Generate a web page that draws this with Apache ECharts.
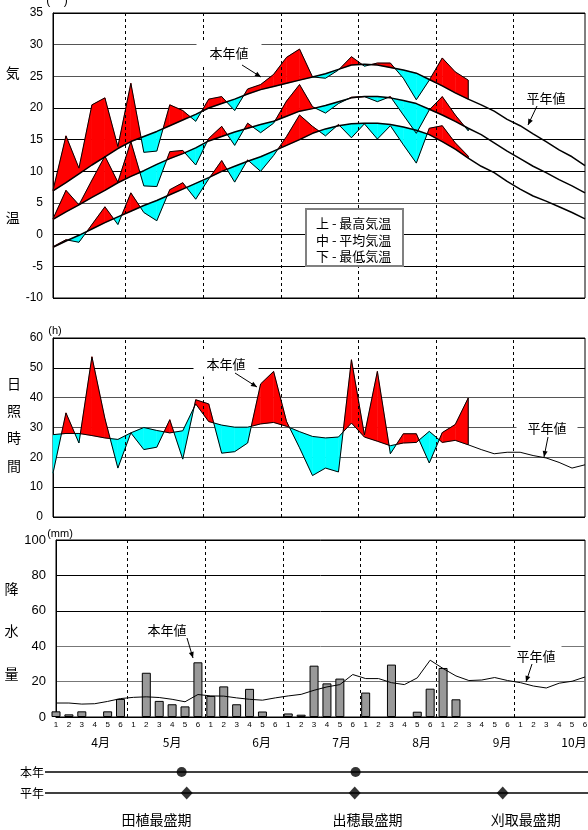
<!DOCTYPE html>
<html>
<head>
<meta charset="utf-8">
<script src="https://cdn.jsdelivr.net/npm/echarts@6/dist/echarts.min.js"></script>
<style>
html,body{margin:0;padding:0;background:#fff;}
#main{width:588px;height:830px;}
</style>
</head>
<body>
<div id="main"></div>
<script>
// x = 半旬 index, 0 = 4月1半旬 ... 41 = 10月6半旬
var periodLabels = ['1', '2', '3', '4', '5', '6'];
var monthNames = ['4月', '5月', '6月', '7月', '8月', '9月', '10月'];
var monthLabelPos = [3.46, 9.0, 15.94, 22.14, 28.34, 34.58, 40.15];
var monthEdges = [5.55, 11.6, 17.6, 23.55, 29.5, 35.5];

// 気温 (℃)
var maxAct = [7.0, 15.6, 10.5, 20.5, 21.6, 13.9, 23.9, 13.0, 13.2, 20.5, 19.6, 17.9, 21.4, 21.8, 19.6, 23.0,
	23.7, 25.3, 28.0, 29.3, 24.9, 24.7, 26.0, 28.1, 26.6, 27.1, 27.1, 24.7, 21.3, 24.4, 27.9, 25.7, 24.4];
var maxNorm = [6.9, 8.2, 9.6, 11.0, 12.3, 13.6, 14.7, 15.5, 16.3, 17.2, 18.1, 19.0, 20.0, 20.7, 21.4, 22.2,
	22.9, 23.4, 23.9, 24.4, 24.9, 25.4, 26.1, 26.8, 26.9, 26.8, 26.4, 26.0, 25.5, 24.5, 23.5, 22.4, 21.4,
	20.5, 19.5, 18.2, 17.2, 15.9, 14.7, 13.4, 12.3, 10.9];
var meanAct = [2.5, 7.0, 4.7, 8.6, 12.4, 8.3, 14.7, 7.7, 7.6, 13.1, 13.3, 11.0, 15.2, 17.1, 14.1, 17.6,
	16.1, 17.6, 21.1, 23.7, 20.2, 19.2, 20.7, 21.7, 21.8, 21.0, 21.8, 18.9, 16.0, 19.7, 21.8, 18.9, 16.4];
var meanNorm = [2.4, 3.6, 4.7, 5.9, 7.0, 8.2, 9.2, 10.1, 11.1, 12.0, 12.8, 13.7, 14.8, 15.5, 16.2, 16.8,
	17.4, 17.9, 18.7, 19.5, 19.9, 20.4, 21.0, 21.6, 21.8, 21.8, 21.6, 21.2, 20.7, 19.8, 18.9, 17.9, 16.8,
	15.8, 14.5, 13.2, 12.0, 10.8, 9.8, 8.7, 7.7, 6.6];
var minAct = [-1.9, -0.8, -1.2, 1.6, 4.4, 1.6, 6.6, 3.5, 2.2, 7.1, 8.2, 5.6, 8.8, 11.7, 8.3, 11.8,
	10.0, 12.5, 15.5, 18.9, 17.1, 15.6, 17.4, 15.3, 17.5, 15.1, 17.2, 14.2, 11.3, 16.8, 17.2, 14.5, 12.4];
var minNorm = [-2.0, -1.0, -0.1, 0.9, 1.9, 2.8, 3.7, 4.6, 5.4, 6.3, 7.2, 8.1, 9.0, 10.0, 10.8, 11.6,
	12.3, 13.2, 14.1, 15.0, 16.0, 16.7, 17.2, 17.5, 17.6, 17.6, 17.4, 17.0, 16.5, 15.8, 14.7, 13.5, 12.1,
	10.8, 9.8, 8.4, 7.2, 6.1, 5.3, 4.4, 3.5, 2.5];

// 日照時間 (h)
var sunAct = [14.7, 34.9, 24.8, 53.7, 33.0, 16.4, 28.2, 22.6, 23.4, 32.6, 19.4, 39.3, 37.9, 21.4, 21.9, 24.8,
	44.6, 48.8, 32.0, 23.2, 13.9, 16.4, 15.1, 52.7, 27.5, 48.8, 21.2, 27.9, 27.9, 18.1, 28.3, 31.0, 39.9];
var sunNorm = [27.6, 28.0, 28.0, 27.3, 26.5, 26.0, 28.2, 30.0, 29.0, 28.2, 28.9, 37.9, 32.0, 30.8, 30.1, 30.1,
	31.2, 31.7, 30.4, 28.6, 27.0, 26.5, 26.8, 31.5, 26.8, 25.4, 23.9, 24.8, 25.0, 28.7, 25.0, 25.7, 24.2,
	22.6, 21.2, 21.7, 21.7, 20.6, 19.8, 18.3, 16.4, 17.5];

// 降水量 (mm)
var rainAct = [3.2, 1.5, 3.2, null, 3.2, 10.2, null, 25.0, 9.1, 7.2, 6.0, 30.9, 11.9, 17.3, 7.2, 15.9,
	3.1, null, 2.0, 1.3, 29.0, 19.0, 21.7, null, 13.8, null, 29.6, null, 3.0, 16.0, 27.7, 10.0];
var rainNorm = [7.9, 7.9, 7.3, 7.5, 8.8, 10.4, 11.1, 11.4, 11.0, 10.0, 8.6, 12.7, 11.9, 11.8, 10.8, 10.0,
	9.5, 10.8, 11.9, 12.8, 15.1, 17.0, 18.3, 24.0, 21.7, 21.7, 19.4, 18.3, 22.1, 32.1, 27.4, 23.2, 20.6,
	20.9, 22.3, 20.6, 19.4, 17.5, 16.4, 19.1, 20.2, 22.6];

// 生育ステージ
var stageNames = ['田植最盛期', '出穂最盛期', '刈取最盛期'];
var stageLabelPos = [7.8, 24.15, 36.4];
var stageThisYear = [9.74, 23.22];
var stageNormal = [10.13, 23.15, 34.62];

var RED = '#ff0000', CYAN = '#00ffff';
var JP = '"Noto Sans CJK JP", sans-serif';

function pairs(arr) {
	var out = [];
	for (var i = 0; i < arr.length; i++) {
		if (arr[i] != null) out.push([i, arr[i]]);
	}
	return out;
}

// red where this year is above normal, cyan where below
function band(act, norm, ax) {
	var segs = [];
	for (var i = 0; i < act.length - 1; i++) {
		segs.push([i, act[i], norm[i], act[i + 1], norm[i + 1]]);
	}
	return {
		type: 'custom', xAxisIndex: ax, yAxisIndex: ax, z: 2, silent: true,
		data: segs,
		encode: {x: 0, y: [1, 2]},
		renderItem: function(params, api){
			var i = api.value(0);
			var a0v = api.value(1), n0v = api.value(2), a1v = api.value(3), n1v = api.value(4);
			var a0 = api.coord([i, a0v]), n0 = api.coord([i, n0v]);
			var a1 = api.coord([i + 1, a1v]), n1 = api.coord([i + 1, n1v]);
			var d0 = a0v - n0v, d1 = a1v - n1v;
			var kids = [];
			function poly(pts, up){
				var c = up ? RED : CYAN;
				kids.push({type: 'polygon', shape: {points: pts}, style: {fill: c, stroke: c, lineWidth: 0.5}});
			}
			if (d0 * d1 >= 0) {
				poly([a0, a1, n1, n0], d0 + d1 >= 0);
			} else {
				var t = d0 / (d0 - d1);
				var p = [a0[0] + t * (a1[0] - a0[0]), a0[1] + t * (a1[1] - a0[1])];
				poly([a0, p, n0], d0 > 0);
				poly([p, a1, n1], d1 > 0);
			}
			if (params.dataIndex === segs.length - 1) {
				kids.push({type: 'line', shape: {x1: a1[0], y1: a1[1], x2: n1[0], y2: n1[1]},
					style: {stroke: '#000', lineWidth: 1}});
			}
			return {type: 'group', children: kids};
		}
	};
}

function line(arr, ax, w) {
	return {
		type: 'line', xAxisIndex: ax, yAxisIndex: ax, data: pairs(arr), symbol: 'none', silent: true, z: 3,
		lineStyle: {color: '#000', width: w}
	};
}

function monthLines(ax) {
	return {
		type: 'line', xAxisIndex: ax, yAxisIndex: ax, data: [], silent: true, z: 1,
		markLine: {
			silent: true, symbol: 'none', label: {show: false}, animation: false,
			lineStyle: {color: '#000', type: [3, 3], width: 1},
			data: monthEdges.map(function(v){ return {xAxis: v}; })
		}
	};
}

// s = spacer line, shifts the stacked title up or down
function valueY(idx, min, max, step, colors, name, gap, lh, sp, fs) {
	return {
		gridIndex: idx, type: 'value', min: min, max: max, interval: step,
		axisLine: {show: true, lineStyle: {color: '#000', width: 1}},
		axisTick: {show: false},
		axisLabel: {color: '#000', fontSize: fs, margin: 10, fontFamily: 'Liberation Sans'},
		splitLine: {show: true, lineStyle: {color: colors, width: 1}},
		name: name, nameLocation: 'middle', nameRotate: 0, nameGap: gap,
		nameTextStyle: {fontSize: 14, color: '#000', lineHeight: lh, fontFamily: JP,
			rich: {s: {fontSize: 1, lineHeight: sp}}}
	};
}

function arrow(x1, y1, x2, y2) {
	var dx = x2 - x1, dy = y2 - y1, l = Math.sqrt(dx * dx + dy * dy);
	var ux = dx / l, uy = dy / l;
	var bx = x2 - ux * 6, by = y2 - uy * 6;
	return [
		{type: 'line', shape: {x1: x1, y1: y1, x2: x2, y2: y2}, style: {stroke: '#000', lineWidth: 1}, z: 20},
		{type: 'polygon', shape: {points: [[x2, y2], [bx - uy * 2.5, by + ux * 2.5], [bx + uy * 2.5, by - ux * 2.5]]},
			style: {fill: '#000'}, z: 20}
	];
}

function note(text, x, y, pad) {
	return {
		type: 'text', x: x, y: y, z: 20,
		style: {text: text, font: '13px ' + JP, fill: '#000', align: 'center', verticalAlign: 'middle',
			textAlign: 'center', textVerticalAlign: 'middle', backgroundColor: '#fff', padding: pad}
	};
}

var graphics = [
	note('本年値', 229, 53, [6, 13, 6, 13]),
	note('平年値', 546, 98, [2, 4, 2, 4]),
	note('本年値', 226, 364, [6, 13, 6, 13]),
	note('平年値', 547, 428, [5, 11, 5, 11]),
	note('本年値', 167, 630, [2, 4, 2, 4]),
	note('平年値', 536, 656, [12, 6, 3, 6]),
	{type: 'text', x: 57, y: 1, z: 20,
		style: {text: '(    )', font: '12px Liberation Sans', fill: '#000', align: 'center', verticalAlign: 'middle'}},
	{type: 'text', x: 55, y: 331, z: 20,
		style: {text: '(h)', font: '11px Liberation Sans', fill: '#000', align: 'center', verticalAlign: 'middle'}},
	{type: 'text', x: 60, y: 534, z: 20,
		style: {text: '(mm)', font: '11px Liberation Sans', fill: '#000', align: 'center', verticalAlign: 'middle'}},
	{type: 'rect', shape: {x: 306, y: 209, width: 97, height: 57}, z: 20,
		style: {fill: '#fff', stroke: '#808080', lineWidth: 2}},
	{type: 'text', x: 316, y: 215, z: 21,
		style: {text: '上 - 最高気温\n中 - 平均気温\n下 - 最低気温', font: '13px ' + JP, fill: '#000', lineHeight: 16.5}}
].concat(arrow(242, 65, 261, 77), arrow(537, 106, 528, 125), arrow(235, 373, 257, 387),
	arrow(548, 437, 544, 457), arrow(187, 638, 193, 658), arrow(532, 664, 526, 682));

var option = {
	animation: false,
	backgroundColor: '#fff',
	textStyle: {fontFamily: 'Liberation Sans, "Noto Sans CJK JP", sans-serif'},
	grid: [
		{left: 53, right: 3, top: 13, height: 285, show: true, borderColor: '#000', borderWidth: 1, outerBoundsMode: 'none'},
		{left: 53, right: 3, top: 338, height: 179, show: true, borderColor: '#000', borderWidth: 1, outerBoundsMode: 'none'},
		{left: 56, right: 3, top: 540, height: 177, show: true, borderColor: '#000', borderWidth: 1, outerBoundsMode: 'none'},
		{left: 45, right: 0, top: 772, height: 21, outerBoundsMode: 'none'}
	],
	xAxis: [
		{gridIndex: 0, type: 'value', min: 0, max: 41, show: false},
		{gridIndex: 1, type: 'value', min: 0, max: 41, show: false},
		{gridIndex: 2, type: 'value', min: 0, max: 41, interval: 1,
			axisLine: {show: true, lineStyle: {color: '#000'}}, axisTick: {show: false}, splitLine: {show: false},
			axisLabel: {color: '#000', fontSize: 8, margin: 4, fontFamily: 'Liberation Sans Narrow, Liberation Sans',
				formatter: function(v){ return periodLabels[v % 6]; }}},
		{gridIndex: 2, type: 'value', min: 0, max: 41, position: 'bottom',
			axisLine: {show: false}, axisTick: {show: false}, splitLine: {show: false},
			axisLabel: {color: '#000', fontSize: 12, margin: 19, customValues: monthLabelPos, fontFamily: JP,
				formatter: function(v){ return monthNames[monthLabelPos.indexOf(v)]; }}},
		{gridIndex: 3, type: 'value', min: -0.85, max: 41.23,
			axisLine: {show: false}, axisTick: {show: false}, splitLine: {show: false},
			axisLabel: {color: '#000', fontSize: 14, margin: 20, customValues: stageLabelPos, fontFamily: JP,
				formatter: function(v){ return stageNames[stageLabelPos.indexOf(v)]; }}}
	],
	yAxis: [
		valueY(0, -10, 35, 5, ['#000', '#000', '#000', '#555', '#000', '#000', '#000', '#555', '#555', '#000'],
			'気\n温\n{s| }', 32, 145, 20, 12),
		valueY(1, 0, 60, 10, ['#000', '#000', '#555', '#555', '#555', '#000', '#000'],
			'日\n照\n時\n間\n{s| }', 32, 27.3, 6, 12),
		valueY(2, 0, 100, 20, ['#000', '#777', '#777', '#000', '#000', '#000'],
			'{s| }\n降\n水\n量', 35, 42.5, 5, 13),
		{gridIndex: 3, type: 'category', data: ['平年', '本年'], boundaryGap: false,
			axisLine: {show: false}, axisTick: {show: false},
			axisLabel: {color: '#000', fontSize: 12, margin: 1, fontFamily: JP},
			splitLine: {show: true, lineStyle: {color: '#000', width: 1.5}}}
	],
	series: [
		monthLines(0),
		band(maxAct, maxNorm, 0), band(meanAct, meanNorm, 0), band(minAct, minNorm, 0),
		line(maxNorm, 0, 1.5), line(meanNorm, 0, 1.5), line(minNorm, 0, 1.5),
		line(maxAct, 0, 1), line(meanAct, 0, 1), line(minAct, 0, 1),

		monthLines(1),
		band(sunAct, sunNorm, 1),
		line(sunNorm, 1, 1), line(sunAct, 1, 1),

		monthLines(2),
		{type: 'bar', xAxisIndex: 2, yAxisIndex: 2, data: pairs(rainAct), barWidth: 9, z: 2, silent: true,
			itemStyle: {color: '#999999', borderColor: '#000', borderWidth: 1}},
		line(rainNorm, 2, 1),

		{type: 'scatter', xAxisIndex: 4, yAxisIndex: 3, symbol: 'circle', symbolSize: 10, z: 5, silent: true,
			itemStyle: {color: '#000'},
			data: stageThisYear.map(function(v){ return [v, 1]; })},
		{type: 'scatter', xAxisIndex: 4, yAxisIndex: 3, symbol: 'diamond', symbolSize: [12, 13], z: 5, silent: true,
			itemStyle: {color: '#000'},
			data: stageNormal.map(function(v){ return [v, 0]; })}
	],
	graphic: graphics
};

var myChart = echarts.init(document.getElementById('main'));
myChart.setOption(option);
</script>
</body>
</html>
